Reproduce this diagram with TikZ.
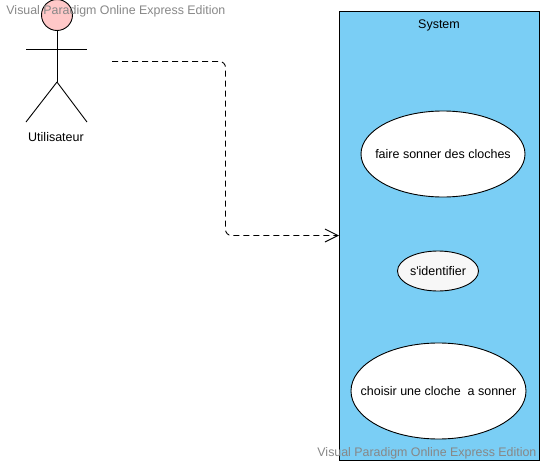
\documentclass[tikz,border=0pt]{standalone}
\usepackage{fontspec}
\setmainfont{Liberation Sans}
\usetikzlibrary{arrows.meta,shapes.geometric}
\definecolor{fondsysteme}{RGB}{122,206,245}
\definecolor{fondtete}{RGB}{255,200,200}
\definecolor{fondcas}{RGB}{247,247,247}
\definecolor{filigrane}{RGB}{135,135,135}
\tikzset{
	texte/.style={font=\fontsize{12.5}{14}\selectfont, inner sep=0pt},
	filigranetexte/.style={font=\fontsize{12.4}{14}\selectfont, inner sep=0pt, text=filigrane, anchor=base west},
	cas/.style={draw, ellipse, fill=white, texte, inner xsep=-25pt, inner ysep=0pt, outer sep=0pt, align=center},
	trait/.style={line width=0.9pt},
}
\begin{document}
\begin{tikzpicture}[x=1pt, y=-1pt, line width=0.9pt]
	
	\useasboundingbox (0, 0) rectangle (542, 463);
	
	\node[draw, fill=fondsysteme, outer sep=0pt, minimum width=200pt, minimum height=449pt] (systeme) at (439, 235.5) {};
	\node[texte] (titre) at (439, 25) {System};
	
	\node[cas, minimum width=164pt, minimum height=86pt] (sonner) at (443, 154) {faire sonner des cloches};
	\node[cas, fill=fondcas, minimum width=81pt, minimum height=40pt] (identifier) at (438, 271) {s\textquotesingle identifier};
	\node[cas, minimum width=175pt, minimum height=96pt] (choisir) at (438.5, 391) {choisir une cloche\ \ a sonner};
	
	\node[draw, circle, fill=fondtete, inner sep=0pt, outer sep=0pt, minimum size=31pt] (tete) at (57, 15) {};
	\coordinate (bassin) at (57, 82);
	\coordinate (brasg) at (26, 49);
	\coordinate (brasd) at (87, 49);
	\coordinate (piedg) at (26, 122);
	\coordinate (piedd) at (87, 122);
	\draw[trait] (tete) -- (bassin);
	\draw[trait] (brasg) -- (brasd);
	\draw[trait] (bassin) -- (piedg);
	\draw[trait] (bassin) -- (piedd);
	\node[texte] (utilisateur) at (56, 137) {Utilisateur};
	
	\coordinate (depart) at (112, 61.5);
	\draw[trait, dashed, dash pattern=on 6pt off 4pt, rounded corners=6pt, -{Straight Barb[length=13pt, width=13pt, line width=0.9pt]}] (depart) -- (225.5, 61.5) -- (225.5, 235.5) -- (systeme.west);
	
	\node[filigranetexte] (filigranehaut) at (6, 14) {Visual Paradigm Online Express Edition};
	\node[filigranetexte] (filigranebas) at (317, 456) {Visual Paradigm Online Express Edition};
	
\end{tikzpicture}
\end{document}
